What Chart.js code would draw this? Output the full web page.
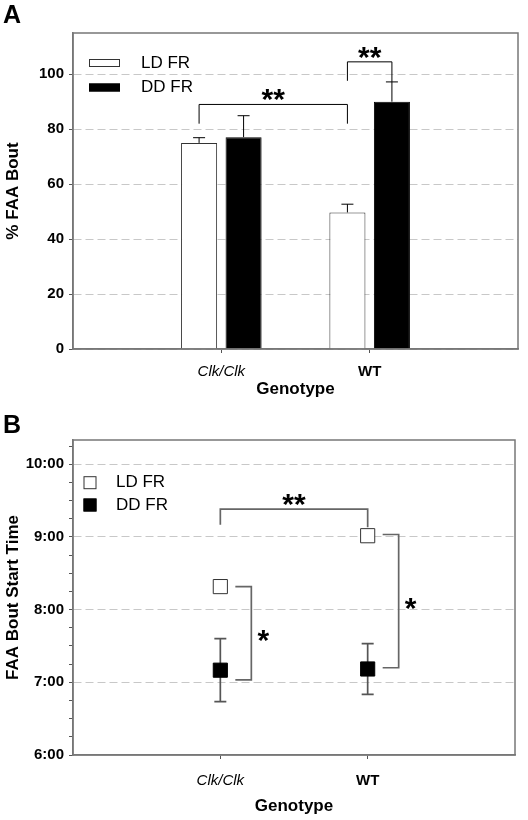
<!DOCTYPE html>
<html>
<head>
<meta charset="utf-8">
<script src="https://cdn.jsdelivr.net/npm/chart.js@4"></script>
<style>
  html, body { margin: 0; padding: 0; background: #fff; }
  .panel { position: relative; width: 528px; height: 410px; }
  .panel-letter {
    position: absolute; left: 3px; top: 0px;
    font: bold 25px "Liberation Sans", Arial, sans-serif; color: #000;
  }
  canvas { display: block; }
</style>
</head>
<body>
<div class="panel">
  <div class="panel-letter">A</div>
  <canvas id="chartA" width="528" height="410"></canvas>
</div>
<div class="panel">
  <div class="panel-letter">B</div>
  <canvas id="chartB" width="528" height="410"></canvas>
</div>
<script>
const genotypes = ['Clk/Clk', 'WT'];
const seriesNames = ['LD FR', 'DD FR'];

// A: % FAA bout (mean, upper SEM)
const faaLd = [75.0, 49.7];
const faaLdErr = [1.9, 3.0];
const faaDd = [77.1, 90.0];
const faaDdErr = [7.8, 7.2];
const faaTicks = [0, 20, 40, 60, 80, 100];

// B: FAA bout start time, minutes after midnight (mean, SEM)
const startLd = [499, 541];
const startLdErr = [4, 3];
const startDd = [430, 431];
const startDdErr = [26, 21];
const startTickLabels = ['6:00', '7:00', '8:00', '9:00', '10:00'];

Chart.defaults.font.family = '"Liberation Sans", Arial, sans-serif';
Chart.defaults.color = '#000';

// empty slots either side so the two genotypes sit at 1/3 and 2/3
const labels = ['', ...genotypes, ''];
const pad = arr => [null, ...arr, null];
const clear = 'rgba(0,0,0,0)';

function tickFont(c) {
  return c.index === 1 ? { size: 15, style: 'italic' } : { size: 15, weight: 'bold' };
}

const framePlugin = {
  id: 'frame',
  afterDraw(chart) {
    const { ctx, chartArea: a } = chart;
    ctx.save();
    ctx.strokeStyle = '#777';
    ctx.lineWidth = 1.5;
    ctx.strokeRect(a.left, a.top, a.right - a.left, a.bottom - a.top);
    ctx.restore();
  }
};

function errorBars(hook, style) {
  return {
    id: 'errorBars',
    [hook](chart) {
      const { ctx } = chart;
      const y = chart.scales.y;
      ctx.save();
      ctx.strokeStyle = style.color;
      ctx.lineWidth = style.width;
      chart.data.datasets.forEach((ds, i) => {
        if (!ds.errors) return;
        chart.getDatasetMeta(i).data.forEach((el, j) => {
          const v = ds.data[j], e = ds.errors[j];
          if (v == null || !e) return;
          const top = y.getPixelForValue(v + e);
          const bot = y.getPixelForValue(style.both ? v - e : v);
          const h = style.cap / 2;
          ctx.beginPath();
          ctx.moveTo(el.x, bot); ctx.lineTo(el.x, top);
          ctx.moveTo(el.x - h, top); ctx.lineTo(el.x + h, top);
          if (style.both) { ctx.moveTo(el.x - h, bot); ctx.lineTo(el.x + h, bot); }
          ctx.stroke();
        });
      });
      ctx.restore();
    }
  };
}

// significance marks: 'span' joins two marks, 'side' is a bracket to the right of one genotype
function brackets(list, style) {
  return {
    id: 'brackets',
    afterDatasetsDraw(chart) {
      const { ctx } = chart;
      const y = chart.scales.y;
      const px = (d, i) => chart.getDatasetMeta(d).data[i].x;
      ctx.save();
      ctx.strokeStyle = style.color;
      ctx.lineWidth = style.width;
      ctx.fillStyle = '#000';
      ctx.font = 'bold 30px "Liberation Sans", Arial, sans-serif';
      ctx.textAlign = 'center';
      list.forEach(b => {
        ctx.beginPath();
        if (b.type === 'span') {
          const x1 = px(b.from[0], b.from[1]), x2 = px(b.to[0], b.to[1]);
          const yt = y.getPixelForValue(b.top);
          ctx.moveTo(x1, y.getPixelForValue(b.leftEnd));
          ctx.lineTo(x1, yt); ctx.lineTo(x2, yt);
          ctx.lineTo(x2, y.getPixelForValue(b.rightEnd));
          ctx.stroke();
          ctx.fillText(b.label, (x1 + x2) / 2, yt + 5);
        } else {
          const x0 = px(0, b.at);
          const xa = x0 + 15, xb = x0 + 31;
          const yt = y.getPixelForValue(b.top), yb = y.getPixelForValue(b.bottom);
          ctx.moveTo(xa, yt); ctx.lineTo(xb, yt); ctx.lineTo(xb, yb); ctx.lineTo(xa, yb);
          ctx.stroke();
          ctx.fillText(b.label, xb + 12, (yt + yb) / 2 + 17);
        }
      });
      ctx.restore();
    }
  };
}

function insideLegend(kind, x, ys, textX) {
  return {
    id: 'insideLegend',
    afterDraw(chart) {
      const { ctx } = chart;
      ctx.save();
      ctx.font = '17px "Liberation Sans", Arial, sans-serif';
      ctx.textBaseline = 'middle';
      chart.data.datasets.forEach((ds, i) => {
        const cy = ys[i];
        ctx.fillStyle = ds.backgroundColor;
        ctx.strokeStyle = ds.borderColor;
        ctx.lineWidth = 1;
        if (kind === 'bar') {
          ctx.fillRect(x, cy - 4, 31, 8);
          ctx.strokeRect(x + 0.5, cy - 3.5, 30, 7);
        } else {
          ctx.fillRect(x - 6.5, cy - 6.5, 13, 13);
          ctx.strokeRect(x - 6, cy - 6, 12, 12);
        }
        ctx.fillStyle = '#000';
        ctx.fillText(ds.label, textX, cy);
      });
      ctx.restore();
    }
  };
}

const titleFont = { size: 17, weight: 'bold' };

new Chart(document.getElementById('chartA'), {
  type: 'bar',
  data: {
    labels,
    datasets: [
      { label: seriesNames[0], data: pad(faaLd), errors: pad(faaLdErr),
        backgroundColor: '#fff', borderColor: '#333', borderWidth: 1 },
      { label: seriesNames[1], data: pad(faaDd), errors: pad(faaDdErr),
        backgroundColor: '#000', borderColor: '#000', borderWidth: 1 }
    ]
  },
  options: {
    responsive: false,
    animation: false,
    events: [],
    categoryPercentage: 0.6,
    barPercentage: 0.81,
    layout: { padding: { top: 33, right: 5, left: 0, bottom: 0 } },
    plugins: { legend: { display: false }, tooltip: { enabled: false } },
    scales: {
      x: {
        offset: false,
        afterFit: s => { s.height = 61; },
        grid: { offset: false, drawOnChartArea: false, tickLength: 4,
          tickColor: c => (c.index === 1 || c.index === 2) ? '#555' : clear },
        border: { color: '#777', width: 1.5 },
        ticks: { padding: 10, autoSkip: false, maxRotation: 0, font: tickFont },
        title: { display: true, text: 'Genotype', font: titleFont, padding: { top: 0, bottom: 10 } }
      },
      y: {
        min: 0, max: 115,
        afterBuildTicks: s => { s.ticks = faaTicks.map(v => ({ value: v })); },
        afterFit: s => { s.width = 73; },
        grid: { color: '#c8c8c8', tickColor: '#555', tickLength: 4 },
        border: { color: '#777', width: 1.5, dash: [8, 4] },
        ticks: { padding: 5, font: { size: 15, weight: 'bold' } },
        title: { display: true, text: '% FAA Bout', font: titleFont, padding: 3 }
      }
    }
  },
  plugins: [
    framePlugin,
    errorBars('afterDatasetsDraw', { color: '#000', width: 1, cap: 12, both: false }),
    brackets([
      { type: 'span', from: [0, 1], to: [0, 2], top: 89, leftEnd: 82, rightEnd: 82, label: '**' },
      { type: 'span', from: [0, 2], to: [1, 2], top: 104.5, leftEnd: 97.6, rightEnd: 97.2, label: '**' }
    ], { color: '#000', width: 1 }),
    insideLegend('bar', 89, [63, 87.5], 141)
  ]
});

new Chart(document.getElementById('chartB'), {
  type: 'line',
  data: {
    labels,
    datasets: [
      { label: seriesNames[0], data: pad(startLd), errors: pad(startLdErr), showLine: false,
        pointStyle: 'rect', pointRadius: 10, backgroundColor: '#fff', borderColor: '#333', borderWidth: 1 },
      { label: seriesNames[1], data: pad(startDd), errors: pad(startDdErr), showLine: false,
        pointStyle: 'rect', pointRadius: 10, backgroundColor: '#000', borderColor: '#000', borderWidth: 1 }
    ]
  },
  options: {
    responsive: false,
    animation: false,
    events: [],
    layout: { padding: { top: 30, right: 5, left: 0, bottom: 0 } },
    plugins: { legend: { display: false }, tooltip: { enabled: false } },
    scales: {
      x: {
        offset: false,
        afterFit: s => { s.height = 65; },
        grid: { drawOnChartArea: false, tickLength: 4,
          tickColor: c => (c.index === 1 || c.index === 2) ? '#555' : clear },
        border: { color: '#777', width: 1.5 },
        ticks: { padding: 13, autoSkip: false, maxRotation: 0, font: tickFont },
        title: { display: true, text: 'Genotype', font: titleFont, padding: { top: 0, bottom: 3 } }
      },
      y: {
        min: 360, max: 620,
        afterBuildTicks: s => {
          s.ticks = [];
          for (let v = 360; v < 620; v += 15) s.ticks.push({ value: v });
        },
        afterFit: s => { s.width = 73; },
        grid: {
          color: c => (c.tick && c.tick.value % 60 === 0 && c.tick.value > 360) ? '#c8c8c8' : clear,
          tickColor: '#555', tickLength: 4
        },
        border: { color: '#777', width: 1.5, dash: [8, 4] },
        ticks: { padding: 5, autoSkip: false, font: { size: 15, weight: 'bold' },
          callback: v => v % 60 === 0 ? startTickLabels[(v - 360) / 60] : '' },
        title: { display: true, text: 'FAA Bout Start Time', font: titleFont, padding: 3 }
      }
    }
  },
  plugins: [
    framePlugin,
    errorBars('beforeDatasetsDraw', { color: '#555', width: 1.7, cap: 12, both: true }),
    brackets([
      { type: 'span', from: [0, 1], to: [0, 2], top: 563, leftEnd: 550, rightEnd: 548, label: '**' },
      { type: 'side', at: 1, top: 499, bottom: 422, label: '*' },
      { type: 'side', at: 2, top: 542, bottom: 432, label: '*' }
    ], { color: '#666', width: 1.7 }),
    insideLegend('point', 90, [72.7, 95], 116)
  ]
});
</script>
</body>
</html>
